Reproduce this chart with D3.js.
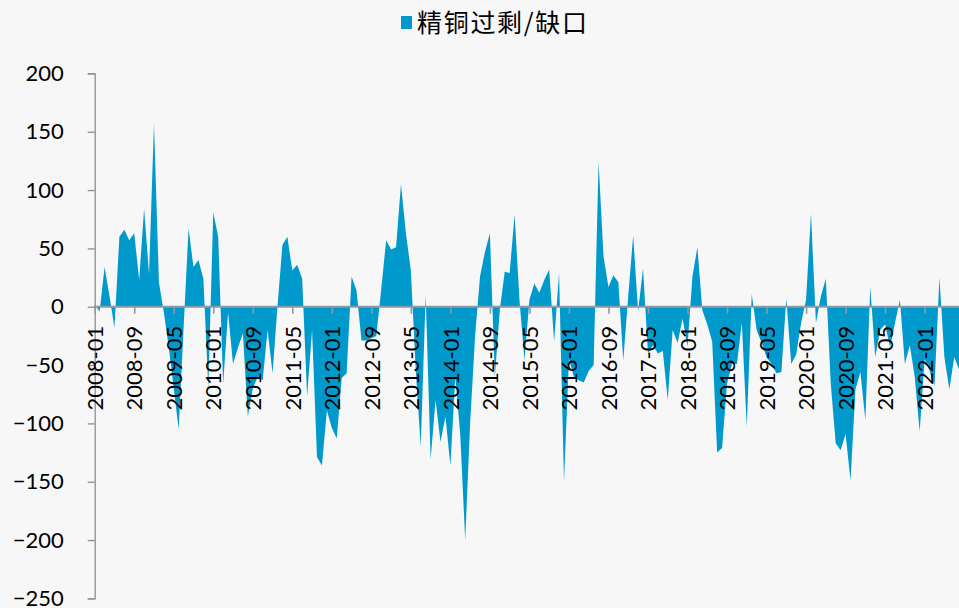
<!DOCTYPE html>
<html><head><meta charset="utf-8">
<script src="https://cdn.jsdelivr.net/npm/d3@7"></script>
<style>html,body{margin:0;padding:0;background:#f7f7f7;} svg{display:block}</style>
</head><body>
<svg id="c" width="959" height="608"></svg>
<script>
const seriesName = "精铜过剩/缺口";
const startYear = 2008, startMonthIdx = 0;
const values = [
  2, -4, 34, 9, -18, 60, 66, 57, 63, 23, 84, 28,            // 2008
  157, 21, -5, -35, -70, -105, -18, 67, 34, 40, 24, -70,      // 2009
  81, 60, -66, -5, -49, -35, -23, -94, -70, -60, -63, -20,    // 2010
  -57, 0, 53, 60, 31, 36, 24, -77, -20, -129, -136, -89,      // 2011
  -104, -113, -61, -57, 26, 14, -29, -29, -27, -25, 15, 57,   // 2012
  49, 51, 105, 63, 31, -55, -120, 10, -131, -80, -116, -94,   // 2013
  -136, -60, -110, -200, -100, -25, 26, 47, 63, -60, -3, 30,  // 2014
  29, 79, 5, -46, 6, 20, 12, 23, 32, -30, 29, -150,           // 2015
  -45, -60, -63, -65, -55, -50, 124, 43, 17, 27, 21, -46,     // 2016
  9, 61, -4, 33, -40, -33, -40, -38, -80, -20, -31, -10,      // 2017
  -34, 26, 51, -3, -15, -30, -125, -121, -66, -49, -49, -14,  // 2018
  -103, 11, -20, -31, -43, -49, -57, -56, 7, -49, -41, -14,   // 2019
  6, 80, -14, 9, 24, -66, -117, -123, -109, -149, -71, -56,   // 2020
  -97, 17, -43, -20, -15, -35, -14, 6, -49, -33, -60, -107,   // 2021
  -45, -55, -68, 25, -43, -71, -43, -54                       // 2022
];
const yTicks = [200, 150, 100, 50, 0, -50, -100, -150, -200, -250];
const xTickLabels = ["2008-01","2008-09","2009-05","2010-01","2010-09","2011-05","2012-01",
  "2012-09","2013-05","2014-01","2014-09","2015-05","2016-01","2016-09","2017-05","2018-01",
  "2018-09","2019-05","2020-01","2020-09","2021-05","2022-01"];

const months = values.map((v, i) => {
  const t = startYear * 12 + startMonthIdx + i;
  const yy = Math.floor(t / 12), mm = t % 12 + 1;
  return yy + "-" + String(mm).padStart(2, "0");
});
const data = months.map((m, i) => ({ m, v: values[i] }));

const svg = d3.select("#c");
const x = d3.scalePoint().domain(months).range([94.7, 959.2]);
const y = d3.scaleLinear().domain([-250, 200]).range([598.4, 73.4]);
const color = "#0099cc";

// area
svg.append("path")
  .datum(data)
  .attr("fill", color)
  .attr("d", d3.area().x(d => x(d.m)).y0(y(0)).y1(d => y(d.v)));

// y axis
const yAxis = svg.append("g")
  .attr("transform", "translate(94.7,0)")
  .call(d3.axisLeft(y).tickValues(yTicks).tickSize(7).tickPadding(24));
yAxis.select(".domain").attr("stroke", "#8f8f8f").attr("stroke-width", 1.3);
yAxis.selectAll(".tick line").attr("stroke", "#8f8f8f").attr("stroke-width", 1.3);
yAxis.selectAll(".tick text")
  .attr("fill", "#000")
  .style("font-family", "Lato, 'Open Sans', sans-serif")
  .style("font-size", "22px");

// x axis at zero
const xAxis = svg.append("g")
  .attr("transform", `translate(0,${y(0)})`)
  .call(d3.axisBottom(x).tickValues(xTickLabels).tickSize(7).tickSizeOuter(0));
xAxis.select(".domain").attr("stroke", "#8d9aa3").attr("stroke-width", 2.2)
  .attr("d", `M94.7,0H959`);
xAxis.selectAll(".tick line").attr("stroke", "#8d9aa3").attr("stroke-width", 1.6);
xAxis.selectAll(".tick text")
  .attr("fill", "#000")
  .attr("transform", "rotate(-90)")
  .attr("text-anchor", "end")
  .attr("x", -19)
  .attr("y", 0)
  .attr("dy", "0.35em")
  .style("font-family", "Lato, 'Open Sans', sans-serif")
  .style("font-size", "22px");

// legend
const lg = svg.append("g");
lg.append("rect").attr("x", 401).attr("y", 16).attr("width", 11).attr("height", 13).attr("fill", color);
lg.append("text").attr("x", 417).attr("y", 32)
  .style("font-family", "'Noto Sans CJK SC', sans-serif")
  .style("font-size", "25px")
  .attr("textLength", 170)
  .attr("lengthAdjust", "spacing")
  .attr("fill", "#000")
  .text(seriesName);
</script>
</body></html>
